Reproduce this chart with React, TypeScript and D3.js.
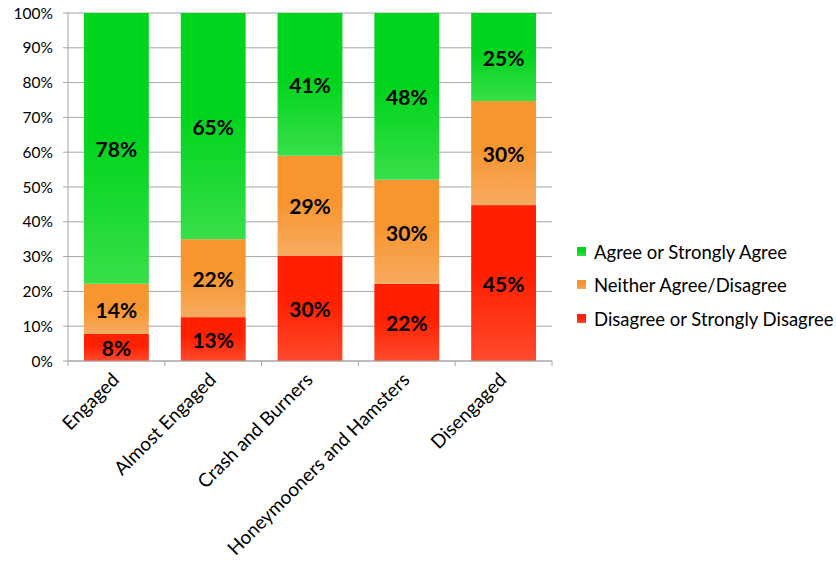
import React from "react";
import * as d3 from "d3";

const categories = ["Engaged", "Almost Engaged", "Crash and Burners", "Honeymooners and Hamsters", "Disengaged"];
const seriesNames = ["Disagree or Strongly Disagree", "Neither Agree/Disagree", "Agree or Strongly Agree"];
const disagree = [7.8, 12.6, 30.3, 22.2, 44.8];
const neither = [14.4, 22.4, 28.7, 29.9, 29.9];
const agree = [77.8, 65.0, 41.0, 47.9, 25.3];
const yTicks = [0, 10, 20, 30, 40, 50, 60, 70, 80, 90, 100];

const W = 836, H = 562;
const left = 68, right = 552, top = 13, bottom = 361;
const FONT = "Lato, 'Open Sans', sans-serif";

const grads = [
  { id: "gRed", top: "#ff2000", bottom: "#ff4a2e" },
  { id: "gOrange", top: "#f7952f", bottom: "#f7ab60" },
  { id: "gGreen", top: "#00d41c", bottom: "#38df4a" },
];

export default function App() {
  const x = d3.scaleBand<string>().domain(categories).range([left, right]).paddingInner(0.33).paddingOuter(0.165);
  const y = d3.scaleLinear().domain([0, 100]).range([bottom, top]);
  const rows = categories.map((c, i) => ({ cat: c, d: disagree[i], n: neither[i], a: agree[i] }));
  const stack = d3.stack<any>().keys(["d", "n", "a"])(rows);
  const step = x.step();
  const legendY = [252, 285, 319];
  const legendOrder = [2, 1, 0];

  return (
    <svg width={W} height={H} style={{ position: "absolute", left: 0, top: 0, background: "#fff" }}>
      <defs>
        {grads.map((g) => (
          <linearGradient key={g.id} id={g.id} x1="0" y1="0" x2="0" y2="1">
            <stop offset="0" stopColor={g.top} />
            <stop offset="0.45" stopColor={g.top} />
            <stop offset="1" stopColor={g.bottom} />
          </linearGradient>
        ))}
      </defs>
      {/* gridlines */}
      {yTicks.map((t) => (
        <g key={t}>
          <line x1={left - 5} x2={right} y1={y(t)} y2={y(t)} stroke="#a6a6a6" strokeWidth={1} />
          <text x={53} y={y(t)} dy="0.36em" textAnchor="end" fontFamily={FONT} fontSize={15.5} fill="#000">
            {t}%
          </text>
        </g>
      ))}
      {/* axes */}
      <line x1={left} x2={left} y1={top} y2={bottom} stroke="#a6a6a6" />
      {categories.map((c, i) => (
        <line key={c} x1={left + i * step} x2={left + i * step} y1={bottom} y2={bottom + 5} stroke="#a6a6a6" />
      ))}
      <line x1={right} x2={right} y1={bottom} y2={bottom + 5} stroke="#a6a6a6" />
      {/* bars */}
      {stack.map((s, si) => (
        <g key={si}>
          {s.map((seg, i) => (
            <rect
              key={i}
              x={x(categories[i])}
              width={x.bandwidth()}
              y={y(seg[1])}
              height={y(seg[0]) - y(seg[1])}
              fill={`url(#${grads[si].id})`}
            />
          ))}
        </g>
      ))}
      <line x1={left} x2={right} y1={bottom} y2={bottom} stroke="#a6a6a6" />
      {/* labels */}
      {stack.map((s, si) => (
        <g key={"l" + si}>
          {s.map((seg, i) => (
            <text
              key={i}
              x={(x(categories[i]) as number) + x.bandwidth() / 2}
              y={(y(seg[0]) + y(seg[1])) / 2}
              dy="0.42em"
              textAnchor="middle"
              fontFamily={FONT}
              fontWeight="bold"
              fontSize={21}
              fill="#000"
            >
              {Math.round(seg[1] - seg[0])}%
            </text>
          ))}
        </g>
      ))}
      {/* x labels */}
      {categories.map((c) => {
        const cx = (x(c) as number) + x.bandwidth() / 2 + 4;
        const cy = bottom + 20;
        return (
          <text
            key={c}
            transform={`translate(${cx},${cy}) rotate(-45)`}
            textAnchor="end"
            fontFamily={FONT}
            fontSize={19}
            fill="#000"
          >
            {c}
          </text>
        );
      })}
      {/* legend */}
      {legendOrder.map((si, k) => (
        <g key={"lg" + si}>
          <rect x={577} y={legendY[k] - 5} width={9} height={9} fill={`url(#${grads[si].id})`} />
          <text x={594} y={legendY[k]} dy="0.36em" fontFamily={FONT} fontSize={18.5} fill="#000">
            {seriesNames[si]}
          </text>
        </g>
      ))}
    </svg>
  );
}
